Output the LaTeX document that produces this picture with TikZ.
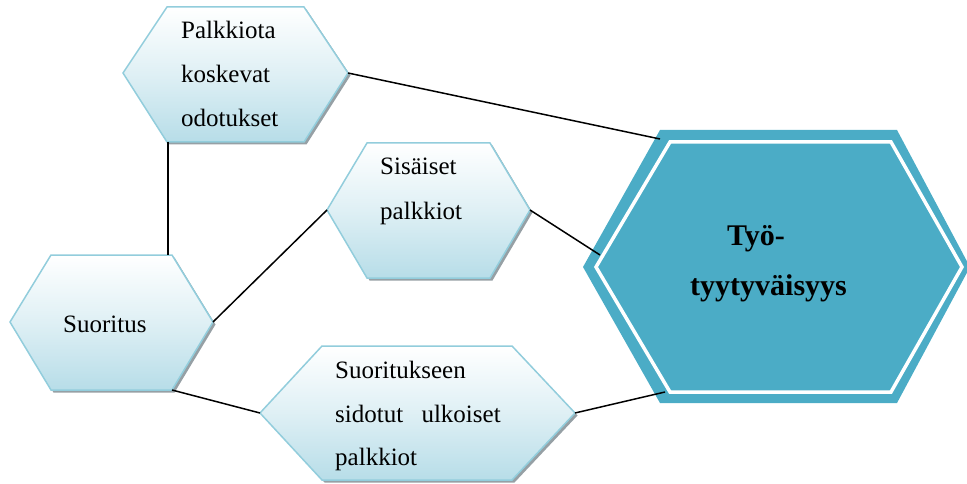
\documentclass[tikz,border=0pt]{standalone}
\usepackage{fontspec}
\setmainfont{Liberation Serif}
\definecolor{hexline}{RGB}{146,205,220}
\definecolor{hexfill}{RGB}{183,221,232}
\definecolor{hexshade}{RGB}{150,160,165}
\definecolor{core}{RGB}{75,172,198}
\tikzset{
  hexbox/.style={draw=hexline, line width=1.5pt, top color=white, bottom color=hexfill,
    middle color=hexfill!45!white},
  hexshadow/.style={fill=hexshade},
  link/.style={draw=black, line width=1.5pt},
  txt/.style={anchor=base west, inner sep=0pt, font=\fontsize{25}{25}\selectfont},
  bigtxt/.style={anchor=base west, inner sep=0pt, font=\bfseries\fontsize{30}{30}\selectfont}
}
% light hexagon: name, x-left, x-topleft, x-topright, x-right, y-top, y-mid, y-bottom
\newcommand\lighthex[8]{%
  \fill[hexshadow] (#2+2.5,#7+2.5) -- (#3+2.5,#6+2.5) -- (#4+2.5,#6+2.5) -- (#5+2.5,#7+2.5)
    -- (#4+2.5,#8+2.5) -- (#3+2.5,#8+2.5) -- cycle;
  \draw[hexbox] (#2,#7) -- (#3,#6) -- (#4,#6) -- (#5,#7) -- (#4,#8) -- (#3,#8) -- cycle;
  \coordinate (#1-w) at (#2,#7);
  \coordinate (#1-nw) at (#3,#6);
  \coordinate (#1-ne) at (#4,#6);
  \coordinate (#1-e) at (#5,#7);
  \coordinate (#1-se) at (#4,#8);
  \coordinate (#1-sw) at (#3,#8);
}
\begin{document}
\begin{tikzpicture}[x=1pt,y=-1pt]
\useasboundingbox (0,0) rectangle (967,484);

% light hexagons
\lighthex{pk}{123}{167}{304}{348}{7}{73}{142}
\lighthex{si}{327}{367}{490}{530}{143}{210}{278}
\lighthex{su}{10}{51}{172}{213}{255}{322}{390}
\lighthex{ul}{260}{322}{512}{575}{346}{413}{480}

% central hexagon with a white inner rim
\fill[core] (583,267) -- (660,130) -- (897,130) -- (970,267) -- (897,403) -- (660,403) -- cycle;
\draw[white, line width=3.5pt, fill=core]
  (596,267) -- (670,142) -- (891,142) -- (962,267) -- (891,392) -- (670,392) -- cycle;
\coordinate (ty-a) at (660,139);
\coordinate (ty-b) at (600,255);
\coordinate (ty-c) at (665,392);

% connectors
\draw[link] (pk-e) -- (ty-a);
\draw[link] (si-e) -- (ty-b);
\draw[link] (ul-e) -- (ty-c);
\coordinate (pk-b) at (168,142);
\coordinate (su-t) at (168,255);
\draw[link] (pk-b) -- (su-t);
\draw[link] (su-e) -- (si-w);
\draw[link] (su-se) -- (ul-w);

% labels
\node[txt] (pk1) at (181,39) {Palkkiota};
\node[txt] (pk2) at (181,83) {koskevat};
\node[txt] (pk3) at (181,127) {odotukset};
\node[txt] (si1) at (380,175) {Sisäiset};
\node[txt] (si2) at (380,219) {palkkiot};
\node[txt] (su1) at (63,332) {Suoritus};
\node[txt] (ul1) at (335,378) {Suoritukseen};
\node[txt] (ul2) at (335,422) {sidotut\hspace{12pt} ulkoiset};
\node[txt] (ul3) at (335,465) {palkkiot};
\node[bigtxt] (ty1) at (727,245) {Työ-};
\node[bigtxt] (ty2) at (690,295) {tyytyväisyys};
\end{tikzpicture}
\end{document}
